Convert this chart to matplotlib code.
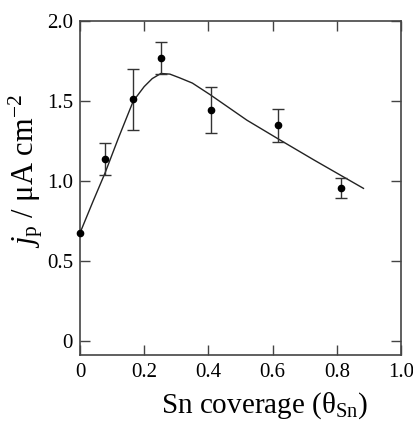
import matplotlib
matplotlib.use("Agg")
import matplotlib.pyplot as plt

plt.rcParams['font.family'] = ['Liberation Serif', 'DejaVu Serif']
plt.rcParams['mathtext.fontset'] = 'custom'
plt.rcParams['mathtext.rm'] = 'Liberation Serif'
plt.rcParams['mathtext.it'] = 'Liberation Serif:italic'

# measured points
coverage = [0.0, 0.078, 0.166, 0.251, 0.407, 0.617, 0.813]
jp = [0.675, 1.136, 1.51, 1.77, 1.446, 1.348, 0.954]
err_low = [0.0, 0.10, 0.19, 0.10, 0.146, 0.104, 0.062]
err_high = [0.0, 0.10, 0.19, 0.10, 0.139, 0.102, 0.065]

# model curve
curve_x = [0.0, 0.04, 0.078, 0.12, 0.166, 0.2, 0.225, 0.252, 0.28, 0.31,
           0.35, 0.405, 0.52, 0.62, 0.73, 0.883]
curve_y = [0.675, 0.87, 1.05, 1.27, 1.50, 1.59, 1.64, 1.672, 1.668, 1.645,
           1.612, 1.54, 1.38, 1.26, 1.13, 0.954]

fig = plt.figure(figsize=(4.13, 4.24), dpi=100)
ax = fig.add_axes([0.1937, 0.1627, 0.7773, 0.7878])

ax.plot(curve_x, curve_y, color='#222222', lw=1.0)
# first point has no error bar
ax.errorbar(coverage[1:], jp[1:], yerr=[err_low[1:], err_high[1:]], fmt='none',
            ecolor='#333333', elinewidth=1.0, capsize=4, capthick=1.0)
ax.plot(coverage, jp, 'o', color='black', ms=4.5, clip_on=False, zorder=3)

ax.set_xlim(0, 1.0)
ax.set_ylim(-0.0875, 2.0)
ax.set_xticks([0, 0.2, 0.4, 0.6, 0.8, 1.0])
ax.set_xticklabels(['0', '0.2', '0.4', '0.6', '0.8', '1.0'])
ax.set_yticks([0, 0.5, 1.0, 1.5, 2.0])
ax.set_yticklabels(['0', '0.5', '1.0', '1.5', '2.0'])
ax.tick_params(direction='in', top=True, right=True, length=7, width=1.0,
               color='#444444', labelsize=15)
ax.tick_params(axis='y', pad=5)
ax.tick_params(axis='x', pad=6)
for s in ax.spines.values():
    s.set_color('#444444')
    s.set_linewidth(1.2)

ax.set_xlabel('Sn coverage (θ$_{\\rm Sn}$)', fontsize=21)
ax.xaxis.set_label_coords(0.576, -0.105)
ax.set_ylabel(r'$j_{\rm p}$ / μA cm$^{-2}$', fontsize=22)
ax.yaxis.set_label_coords(-0.11, 0.55)

fig.savefig('out.png', dpi=100)
